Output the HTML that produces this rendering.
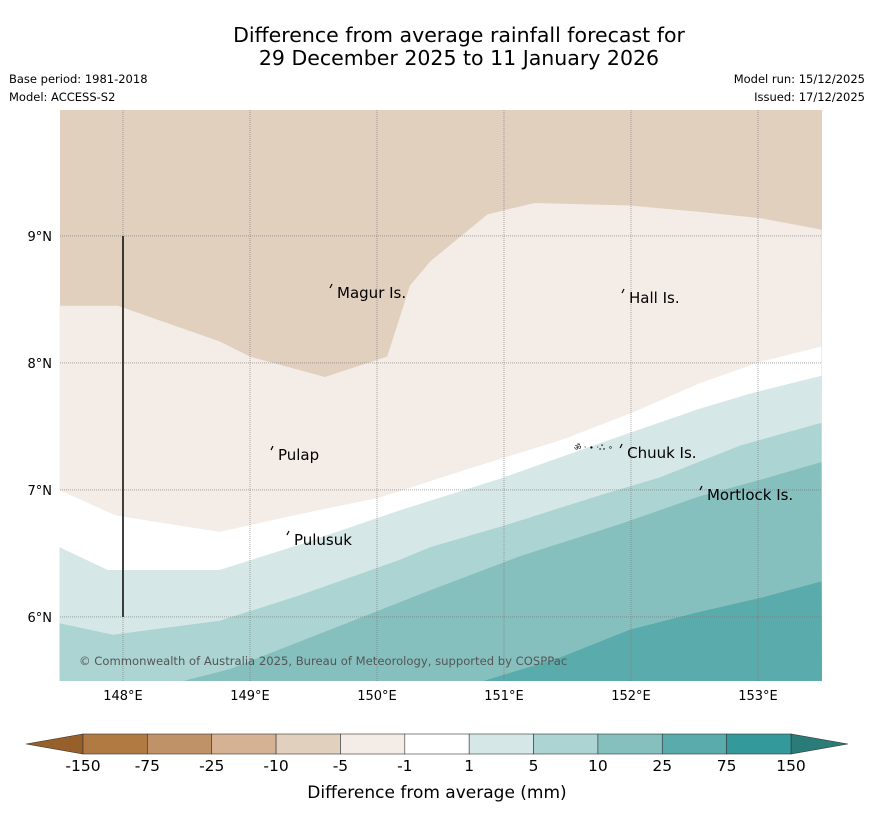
<!DOCTYPE html>
<html><head><meta charset="utf-8"><style>
body{margin:0;background:#fff;font-family:"Liberation Sans","DejaVu Sans",sans-serif;}
svg text{font-family:"DejaVu Sans","Liberation Sans",sans-serif;}
</style></head><body>
<svg id="c" width="873" height="816" viewBox="0 0 873 816">
<rect width="873" height="816" fill="#fff"/>
<text x="459" y="42" font-size="20.5" text-anchor="middle">Difference from average rainfall forecast for</text>
<text x="459" y="65" font-size="20.5" text-anchor="middle">29 December 2025 to 11 January 2026</text>
<text x="9" y="83" font-size="11.5">Base period: 1981-2018</text>
<text x="9" y="101" font-size="11.5">Model: ACCESS-S2</text>
<text x="865" y="83" font-size="11.5" text-anchor="end">Model run: 15/12/2025</text>
<text x="865" y="101" font-size="11.5" text-anchor="end">Issued: 17/12/2025</text>
<g id="map"></g>
<g id="cb"></g>
<text x="437" y="798" font-size="17" text-anchor="middle">Difference from average (mm)</text>
</svg>
<script>
const lonTicks=[148,149,150,151,152,153];
const latTicks=[6,7,8,9];
const levelColors=["#e2d0bf","#f4ece7","#ffffff","#d5e8e7","#acd4d3","#85c0bf","#5aabab"];
const bA=[[147.50,8.45],[147.96,8.45],[148.76,8.17],[149.0,8.05],[149.59,7.89],[150.08,8.05],[150.26,8.61],[150.42,8.80],[150.87,9.17],[151.24,9.26],[151.99,9.24],[152.54,9.19],[153.02,9.14],[153.50,9.05]];
const bB=[[147.50,7.00],[147.94,6.80],[148.76,6.67],[149.39,6.81],[150.02,6.94],[150.73,7.17],[151.44,7.39],[151.99,7.60],[152.54,7.84],[153.02,8.01],[153.50,8.13]];
const bC=[[147.50,6.55],[147.88,6.37],[148.76,6.37],[149.39,6.57],[150.18,6.84],[150.97,7.09],[151.76,7.37],[152.54,7.64],[152.94,7.76],[153.50,7.90]];
const bD=[[147.50,5.95],[147.92,5.86],[148.76,5.97],[149.39,6.17],[150.18,6.45],[150.42,6.55],[150.97,6.71],[151.76,6.96],[152.23,7.10],[152.86,7.35],[153.50,7.53]];
const bE=[[148.49,5.50],[148.84,5.59],[149.63,5.90],[150.42,6.21],[151.13,6.48],[151.91,6.73],[152.54,6.95],[153.02,7.08],[153.50,7.22]];
const bF=[[150.85,5.50],[151.44,5.68],[151.99,5.90],[152.54,6.04],[153.02,6.15],[153.50,6.28]];
const places=[["Magur Is.",149.646,8.551],["Hall Is.",151.945,8.512],["Pulap",149.181,7.275],["Chuuk Is.",151.93,7.291],["Mortlock Is.",152.559,6.960],["Pulusuk",149.307,6.606]];
const cbLabels=["-150","-75","-25","-10","-5","-1","1","5","10","25","75","150"];
const cbColors=["#b07a42","#c09268","#d4b293","#e2d0bf","#f4ece7","#ffffff","#d5e8e7","#acd4d3","#85c0bf","#5aabab","#34999a"];
const X0=60,X1=822,Y0=110,Y1=681,LON0=147.504,LAT1=9.992,PPD=127;
const X=l=>X0+(l-LON0)*PPD, Y=l=>Y0+(LAT1-l)*PPD;
const NS="http://www.w3.org/2000/svg";
function mk(t,a,p){const e=document.createElementNS(NS,t);for(const k in a)e.setAttribute(k,a[k]);p.appendChild(e);return e;}
const map=document.getElementById('map');
const r=mk('rect',{x:X0,y:Y0,width:X1-X0,height:Y1-Y0,fill:levelColors[0]},map);


const bounds=[bA,bB,bC,bD,bE,bF];
const names=['region-minus-5-to-minus-1','region-minus-1-to-1','region-1-to-5','region-5-to-10','region-10-to-25','region-25-to-75'];
bounds.forEach((b,i)=>{
  let pts=b.map(p=>X(p[0]).toFixed(1)+','+Y(p[1]).toFixed(1));
  pts.push(X1+','+Y1);pts.push(X(b[0][0]).toFixed(1)+','+Y1);
  const p=mk('polygon',{points:pts.join(' '),fill:levelColors[i+1]},map);
  
  
});
lonTicks.forEach(l=>{
  const g=mk('line',{x1:X(l),x2:X(l),y1:Y0,y2:Y1,stroke:'#777','stroke-width':0.6,'stroke-dasharray':'1,1'},map);
  
  
  const t=mk('text',{x:X(l),y:700,'font-size':13,'text-anchor':'middle'},map);t.textContent=l+'°E';
  
  
});
latTicks.forEach(l=>{
  const g=mk('line',{x1:X0,x2:X1,y1:Y(l),y2:Y(l),stroke:'#777','stroke-width':0.6,'stroke-dasharray':'1,1'},map);
  
  
  const t=mk('text',{x:52,y:Y(l)+5,'font-size':13,'text-anchor':'end'},map);t.textContent=l+'°N';
  
  
});
const bl=mk('line',{x1:X(148),x2:X(148),y1:Y(9),y2:Y(6),stroke:'#111','stroke-width':1.6},map);


places.forEach(p=>{
  const t=mk('text',{x:X(p[1])+5,y:Y(p[2])+5,'font-size':15},map);t.textContent=p[0];
  
  
  const d=mk('path',{d:`M${X(p[1])},${Y(p[2])-9} l-2,4`,stroke:'#000','stroke-width':1.2,fill:'none'},map);
  
  
});
const isl=mk('text',{x:574,y:450,'font-size':8},map);isl.textContent='ॐ · ∙ ·ஃ ∘';


const cp=mk('text',{x:79,y:665,'font-size':11.6,fill:'#555'},map);cp.textContent='© Commonwealth of Australia 2025, Bureau of Meteorology, supported by COSPPac';


const cb=document.getElementById('cb');
const CB0=83,CBW=(791-83)/cbColors.length,CBY=734,CBH=20;
const tl=mk('polygon',{points:`26,${CBY+CBH/2} ${CB0},${CBY} ${CB0},${CBY+CBH}`,fill:'#97602b',stroke:'#333','stroke-width':0.6},cb);


const tr=mk('polygon',{points:`848,${CBY+CBH/2} 791,${CBY} 791,${CBY+CBH}`,fill:'#2b7b78',stroke:'#333','stroke-width':0.6},cb);


cbColors.forEach((c,i)=>{
  const b=mk('rect',{x:CB0+i*CBW,y:CBY,width:CBW,height:CBH,fill:c,stroke:'#333','stroke-width':0.6},cb);
  
  
});
cbLabels.forEach((s,i)=>{
  const x=i==0?CB0:(i==cbLabels.length-1?791:CB0+i*CBW);
  const t=mk('text',{x:x,y:771,'font-size':15.5,'text-anchor':'middle'},cb);t.textContent=s;
  
  
});
</script>
</body></html>
